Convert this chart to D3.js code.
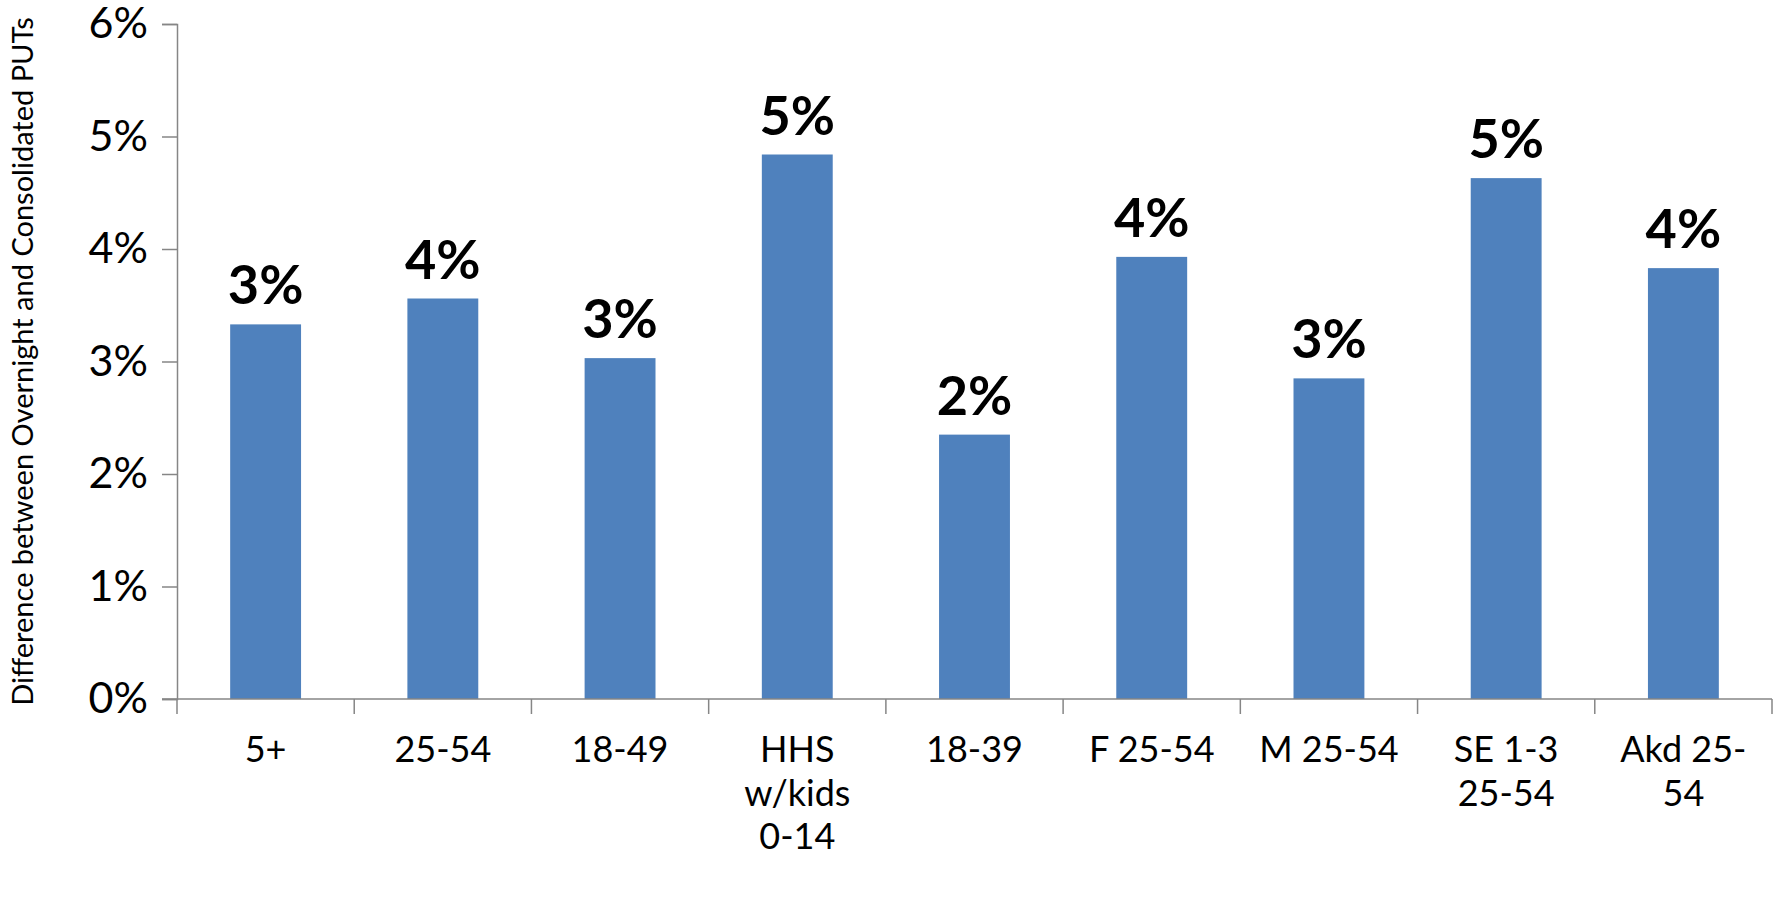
<!DOCTYPE html>
<html>
<head>
<meta charset="utf-8">
<script src="https://cdn.jsdelivr.net/npm/d3@7"></script>
<style>
  html, body { margin: 0; padding: 0; background: #fff; }
  svg { display: block; }
  text { font-family: Lato, "Open Sans", sans-serif; fill: #000; }
</style>
</head>
<body>
<svg id="chart" width="1777" height="911"></svg>
<script>
// Demographic groups (line breaks follow the axis label wrapping)
const categories = [
  "5+", "25-54", "18-49", "HHS\nw/kids\n0-14", "18-39",
  "F 25-54", "M 25-54", "SE 1-3\n25-54", "Akd 25-\n54"
];
// Difference between overnight and consolidated PUTs (fraction)
const differences = [0.0333, 0.0356, 0.0303, 0.0484, 0.0235, 0.0393, 0.0285, 0.0463, 0.0383];
const yTicks = [0, 0.01, 0.02, 0.03, 0.04, 0.05, 0.06];
const yTitle = "Difference between Overnight and Consolidated PUTs";

const svg = d3.select("#chart");
const margin = { left: 177, right: 5, top: 24, bottom: 212 };
const W = 1777, H = 911;
const x0 = margin.left, x1 = W - margin.right;
const y0 = H - margin.bottom, y1 = margin.top;

const x = d3.scaleBand()
  .domain(categories)
  .range([x0, x1])
  .paddingInner(0.6)
  .paddingOuter(0.3);

const y = d3.scaleLinear().domain([0, 0.06]).range([y0, y1]);

const axisColor = "#868686";
const fmt = d3.format(".0%");

// Bars
svg.append("g").selectAll("rect")
  .data(categories)
  .join("rect")
  .attr("x", d => x(d))
  .attr("width", x.bandwidth())
  .attr("y", (d, i) => y(differences[i]))
  .attr("height", (d, i) => y(0) - y(differences[i]))
  .attr("fill", "#4F81BD");

// Y axis
const yAxis = svg.append("g")
  .attr("transform", `translate(${x0},0)`)
  .call(d3.axisLeft(y).tickValues(yTicks).tickFormat(fmt).tickSize(15).tickPadding(14));
yAxis.select(".domain").attr("stroke", axisColor).attr("stroke-width", 1.5);
yAxis.selectAll(".tick line").attr("stroke", axisColor).attr("stroke-width", 1.5);
yAxis.selectAll(".tick text")
  .style("font-family", "Lato, sans-serif")
  .style("font-size", "43px")
  .attr("fill", "#000");

// X axis line with ticks at category boundaries
const step = x.step();
const bounds = d3.range(categories.length + 1).map(i => x0 + i * step);
const xAxis = svg.append("g");
xAxis.append("line")
  .attr("x1", x0 - 15).attr("x2", x1)
  .attr("y1", y0).attr("y2", y0)
  .attr("stroke", axisColor).attr("stroke-width", 1.5);
xAxis.selectAll("line.tk")
  .data(bounds)
  .join("line")
  .attr("class", "tk")
  .attr("x1", d => d).attr("x2", d => d)
  .attr("y1", y0).attr("y2", y0 + 15)
  .attr("stroke", axisColor).attr("stroke-width", 1.5);

// Category labels
const lineH = 43.6;
xAxis.selectAll("text.cat")
  .data(categories)
  .join("text")
  .attr("class", "cat")
  .attr("text-anchor", "middle")
  .style("font-size", "36px")
  .each(function (d) {
    const t = d3.select(this);
    d.split("\n").forEach((ln, k) => {
      t.append("tspan")
        .attr("x", x(d) + x.bandwidth() / 2)
        .attr("y", 762 + k * lineH)
        .text(ln);
    });
  });

// Value labels above bars
svg.append("g").selectAll("text")
  .data(categories)
  .join("text")
  .attr("x", d => x(d) + x.bandwidth() / 2)
  .attr("y", (d, i) => y(differences[i]) - 20)
  .attr("text-anchor", "middle")
  .style("font-size", "54px")
  .style("font-weight", "700")
  .text((d, i) => fmt(differences[i]));

// Y axis title
svg.append("text")
  .attr("transform", `translate(33,${(y0 + y1) / 2}) rotate(-90)`)
  .attr("text-anchor", "middle")
  .style("font-size", "29px")
  .text(yTitle);
</script>
</body>
</html>
